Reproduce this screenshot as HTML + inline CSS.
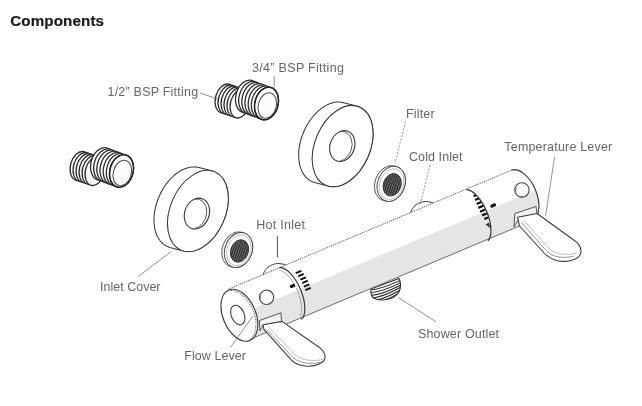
<!DOCTYPE html>
<html><head><meta charset="utf-8"><style>
html,body{margin:0;padding:0;background:#fff;width:642px;height:406px;overflow:hidden}
svg{position:absolute;left:0;top:0;will-change:transform}
</style></head><body>
<svg width="642" height="406" viewBox="0 0 642 406">
<defs><pattern id="mesh" width="2.2" height="2" patternUnits="userSpaceOnUse" ><rect width="2.2" height="2" fill="#2a2a2a"/><rect x="0.6" y="0.5" width="1" height="1" fill="#bbb"/></pattern></defs>
<ellipse cx="80" cy="166" rx="9.5" ry="14.8" transform="rotate(15 80 166)" fill="#fff" stroke="#2e2e2e" stroke-width="1.3" /><ellipse cx="83" cy="167" rx="9.5" ry="14.8" transform="rotate(15 83 167)" fill="#fff" stroke="#2e2e2e" stroke-width="1.3" /><ellipse cx="86" cy="168" rx="9.5" ry="14.8" transform="rotate(15 86 168)" fill="#fff" stroke="#2e2e2e" stroke-width="1.3" /><ellipse cx="89" cy="169" rx="9.5" ry="14.8" transform="rotate(15 89 169)" fill="#fff" stroke="#2e2e2e" stroke-width="1.3" /><ellipse cx="92" cy="170" rx="9.5" ry="14.8" transform="rotate(15 92 170)" fill="#fff" stroke="#2e2e2e" stroke-width="1.3" /><ellipse cx="95" cy="171" rx="9.5" ry="14.8" transform="rotate(15 95 171)" fill="#fff" stroke="#2e2e2e" stroke-width="1.3" /><ellipse cx="102.5" cy="164" rx="11.6" ry="16.6" transform="rotate(15 102.5 164)" fill="#fff" stroke="#2e2e2e" stroke-width="1.3" /><ellipse cx="105.7" cy="165.2" rx="11.6" ry="16.6" transform="rotate(15 105.7 165.2)" fill="#fff" stroke="#2e2e2e" stroke-width="1.3" /><ellipse cx="108.8" cy="166.3" rx="11.6" ry="16.6" transform="rotate(15 108.8 166.3)" fill="#fff" stroke="#2e2e2e" stroke-width="1.3" /><ellipse cx="112" cy="167.5" rx="11.6" ry="16.6" transform="rotate(15 112 167.5)" fill="#fff" stroke="#2e2e2e" stroke-width="1.3" /><ellipse cx="115.2" cy="168.7" rx="11.6" ry="16.6" transform="rotate(15 115.2 168.7)" fill="#fff" stroke="#2e2e2e" stroke-width="1.3" /><ellipse cx="118.3" cy="169.8" rx="11.6" ry="16.6" transform="rotate(15 118.3 169.8)" fill="#fff" stroke="#2e2e2e" stroke-width="1.3" /><ellipse cx="121.5" cy="171" rx="11.6" ry="16.6" transform="rotate(15 121.5 171)" fill="#fff" stroke="#2e2e2e" stroke-width="1.3" /><ellipse cx="121.5" cy="171" rx="11.6" ry="16.6" transform="rotate(15 121.5 171)" fill="none" stroke="#222" stroke-width="1.4" /><ellipse cx="122.3" cy="173" rx="9" ry="13" transform="rotate(15 122.3 173)" fill="#fbfbfb" stroke="#555" stroke-width="1.1" />
<ellipse cx="225" cy="98.5" rx="9.5" ry="14.8" transform="rotate(15 225 98.5)" fill="#fff" stroke="#2e2e2e" stroke-width="1.3" /><ellipse cx="228" cy="99.5" rx="9.5" ry="14.8" transform="rotate(15 228 99.5)" fill="#fff" stroke="#2e2e2e" stroke-width="1.3" /><ellipse cx="231" cy="100.5" rx="9.5" ry="14.8" transform="rotate(15 231 100.5)" fill="#fff" stroke="#2e2e2e" stroke-width="1.3" /><ellipse cx="234" cy="101.5" rx="9.5" ry="14.8" transform="rotate(15 234 101.5)" fill="#fff" stroke="#2e2e2e" stroke-width="1.3" /><ellipse cx="237" cy="102.5" rx="9.5" ry="14.8" transform="rotate(15 237 102.5)" fill="#fff" stroke="#2e2e2e" stroke-width="1.3" /><ellipse cx="240" cy="103.5" rx="9.5" ry="14.8" transform="rotate(15 240 103.5)" fill="#fff" stroke="#2e2e2e" stroke-width="1.3" /><ellipse cx="247.5" cy="96.5" rx="11.6" ry="16.6" transform="rotate(15 247.5 96.5)" fill="#fff" stroke="#2e2e2e" stroke-width="1.3" /><ellipse cx="250.7" cy="97.7" rx="11.6" ry="16.6" transform="rotate(15 250.7 97.7)" fill="#fff" stroke="#2e2e2e" stroke-width="1.3" /><ellipse cx="253.8" cy="98.8" rx="11.6" ry="16.6" transform="rotate(15 253.8 98.8)" fill="#fff" stroke="#2e2e2e" stroke-width="1.3" /><ellipse cx="257" cy="100" rx="11.6" ry="16.6" transform="rotate(15 257 100)" fill="#fff" stroke="#2e2e2e" stroke-width="1.3" /><ellipse cx="260.2" cy="101.2" rx="11.6" ry="16.6" transform="rotate(15 260.2 101.2)" fill="#fff" stroke="#2e2e2e" stroke-width="1.3" /><ellipse cx="263.3" cy="102.3" rx="11.6" ry="16.6" transform="rotate(15 263.3 102.3)" fill="#fff" stroke="#2e2e2e" stroke-width="1.3" /><ellipse cx="266.5" cy="103.5" rx="11.6" ry="16.6" transform="rotate(15 266.5 103.5)" fill="#fff" stroke="#2e2e2e" stroke-width="1.3" /><ellipse cx="266.5" cy="103.5" rx="11.6" ry="16.6" transform="rotate(15 266.5 103.5)" fill="none" stroke="#222" stroke-width="1.4" /><ellipse cx="267.3" cy="105.5" rx="9" ry="13" transform="rotate(15 267.3 105.5)" fill="#fbfbfb" stroke="#555" stroke-width="1.1" />
<path d="M154 221 L154 217.6 L154.3 214.1 L154.8 210.6 L155.6 207.1 L156.5 203.5 L157.7 200 L159.1 196.6 L160.6 193.2 L162.4 190 L164.3 186.8 L166.3 183.9 L168.5 181.1 L170.9 178.5 L173.3 176.1 L175.8 174 L178.4 172.1 L181 170.5 L183.7 169.2 L186.3 168.2 L189 167.4 L191.6 167 L194.1 166.9 L196.6 167.1 L199 167.6 L212.5 171.1 L214.8 171.9 L216.9 173 L218.9 174.4 L220.7 176 L222.4 178 L223.9 180.2 L225.2 182.6 L226.2 185.2 L227.1 188 L227.7 191.1 L228.1 194.2 L228.3 197.5 L228.3 200.9 L228 204.4 L227.5 207.9 L226.7 211.4 L225.8 215 L224.6 218.5 L223.2 221.9 L221.7 225.3 L219.9 228.5 L218 231.7 L216 234.6 L213.8 237.4 L211.4 240 L209 242.4 L206.5 244.5 L203.9 246.4 L201.3 248 L198.6 249.3 L196 250.3 L193.3 251.1 L190.7 251.5 L188.2 251.6 L185.7 251.4 L183.3 250.9 L169.8 247.4 L167.5 246.6 L165.4 245.5 L163.4 244.1 L161.6 242.5 L159.9 240.5 L158.4 238.3 L157.1 235.9 L156.1 233.3 L155.2 230.5 L154.6 227.4 L154.2 224.3Z" fill="#fff" stroke="#383838" stroke-width="1.05" stroke-linejoin="round"/><ellipse cx="197.9" cy="211" rx="27.6" ry="42.6" transform="rotate(23.3 197.9 211)" fill="#fff" stroke="#383838" stroke-width="1.05" /><clipPath id="hc1"><ellipse cx="196.9" cy="213.6" rx="12.2" ry="15.8" transform="rotate(20 196.9 213.6)"/></clipPath><ellipse cx="196.9" cy="213.6" rx="12.2" ry="15.8" transform="rotate(20 196.9 213.6)" fill="#fff" stroke="#383838" stroke-width="1.1" /><g clip-path="url(#hc1)"><ellipse cx="194.1" cy="213.9" rx="12.2" ry="15.5" transform="rotate(20 194.1 213.9)" fill="none" stroke="#555" stroke-width="0.9" /></g>
<path d="M298.7 156.1 L298.7 152.7 L299 149.2 L299.5 145.7 L300.3 142.2 L301.2 138.6 L302.4 135.1 L303.8 131.7 L305.3 128.3 L307.1 125.1 L309 121.9 L311 119 L313.2 116.2 L315.6 113.6 L318 111.2 L320.5 109.1 L323.1 107.2 L325.7 105.6 L328.4 104.3 L331 103.3 L333.7 102.5 L336.3 102.1 L338.8 102 L341.3 102.2 L343.7 102.7 L357.2 106.2 L359.5 107 L361.6 108.1 L363.6 109.5 L365.4 111.1 L367.1 113.1 L368.6 115.3 L369.9 117.7 L370.9 120.3 L371.8 123.1 L372.4 126.2 L372.8 129.3 L373 132.6 L373 136 L372.7 139.5 L372.2 143 L371.4 146.5 L370.5 150.1 L369.3 153.6 L367.9 157 L366.4 160.4 L364.6 163.6 L362.7 166.8 L360.7 169.7 L358.5 172.5 L356.1 175.1 L353.7 177.5 L351.2 179.6 L348.6 181.5 L346 183.1 L343.3 184.4 L340.7 185.4 L338 186.2 L335.4 186.6 L332.9 186.7 L330.4 186.5 L328 186 L314.5 182.5 L312.2 181.7 L310.1 180.6 L308.1 179.2 L306.3 177.6 L304.6 175.6 L303.1 173.4 L301.8 171 L300.8 168.4 L299.9 165.6 L299.3 162.5 L298.9 159.4Z" fill="#fff" stroke="#383838" stroke-width="1.05" stroke-linejoin="round"/><ellipse cx="342.6" cy="146.1" rx="27.6" ry="42.6" transform="rotate(23.3 342.6 146.1)" fill="#fff" stroke="#383838" stroke-width="1.05" /><clipPath id="hc2"><ellipse cx="342.3" cy="146.1" rx="12.2" ry="15.8" transform="rotate(20 342.3 146.1)"/></clipPath><ellipse cx="342.3" cy="146.1" rx="12.2" ry="15.8" transform="rotate(20 342.3 146.1)" fill="#fff" stroke="#383838" stroke-width="1.1" /><g clip-path="url(#hc2)"><ellipse cx="339.5" cy="146.4" rx="12.2" ry="15.5" transform="rotate(20 339.5 146.4)" fill="none" stroke="#555" stroke-width="0.9" /></g>
<path d="M221.8 252.4 L221.9 250.9 L222.1 249.4 L222.3 247.9 L222.7 246.3 L223.2 244.8 L223.8 243.4 L224.5 242 L225.2 240.6 L226.1 239.3 L227 238.1 L228 237 L229.1 236 L230.2 235.1 L231.3 234.3 L232.5 233.6 L233.7 233 L234.9 232.5 L236.2 232.2 L237.4 232 L238.6 232 L239.8 232 L241 232.2 L243.5 232.7 L244.7 233.1 L245.7 233.6 L246.8 234.2 L247.8 234.9 L248.7 235.7 L249.5 236.6 L250.2 237.7 L250.9 238.8 L251.4 240 L251.9 241.3 L252.2 242.7 L252.5 244.1 L252.6 245.6 L252.7 247.1 L252.6 248.6 L252.4 250.1 L252.2 251.6 L251.8 253.2 L251.3 254.7 L250.7 256.1 L250 257.5 L249.3 258.9 L248.4 260.2 L247.5 261.4 L246.5 262.5 L245.4 263.5 L244.3 264.4 L243.2 265.2 L242 265.9 L240.8 266.5 L239.6 267 L238.3 267.3 L237.1 267.5 L235.9 267.5 L234.7 267.5 L233.5 267.3 L231 266.8 L229.8 266.4 L228.8 265.9 L227.7 265.3 L226.7 264.6 L225.8 263.8 L225 262.9 L224.3 261.8 L223.6 260.7 L223.1 259.5 L222.6 258.2 L222.3 256.8 L222 255.4 L221.9 253.9Z" fill="#fff" stroke="#444" stroke-width="0.95" stroke-linejoin="round"/><ellipse cx="238.5" cy="250" rx="13.6" ry="18" transform="rotate(20 238.5 250)" fill="#fff" stroke="#444" stroke-width="0.95" /><ellipse cx="238.8" cy="250.3" rx="11.8" ry="15.8" transform="rotate(20 238.8 250.3)" fill="none" stroke="#aaa" stroke-width="0.7" /><ellipse cx="239.5" cy="251" rx="8.8" ry="11.5" transform="rotate(20 239.5 251)" fill="url(#mesh)" stroke="#333" stroke-width="0.9" />
<path d="M374.5 186.2 L374.6 184.7 L374.8 183.2 L375 181.7 L375.4 180.1 L375.9 178.6 L376.5 177.2 L377.2 175.8 L377.9 174.4 L378.8 173.1 L379.7 171.9 L380.7 170.8 L381.8 169.8 L382.9 168.9 L384 168.1 L385.2 167.4 L386.4 166.8 L387.6 166.3 L388.9 166 L390.1 165.8 L391.3 165.8 L392.5 165.8 L393.7 166 L396.2 166.5 L397.4 166.9 L398.4 167.4 L399.5 168 L400.5 168.7 L401.4 169.5 L402.2 170.4 L402.9 171.5 L403.6 172.6 L404.1 173.8 L404.6 175.1 L404.9 176.5 L405.2 177.9 L405.3 179.4 L405.4 180.9 L405.3 182.4 L405.1 183.9 L404.9 185.4 L404.5 187 L404 188.5 L403.4 189.9 L402.7 191.3 L402 192.7 L401.1 194 L400.2 195.2 L399.2 196.3 L398.1 197.3 L397 198.2 L395.9 199 L394.7 199.7 L393.5 200.3 L392.3 200.8 L391 201.1 L389.8 201.3 L388.6 201.3 L387.4 201.3 L386.2 201.1 L383.7 200.6 L382.5 200.2 L381.5 199.7 L380.4 199.1 L379.4 198.4 L378.5 197.6 L377.7 196.7 L377 195.6 L376.3 194.5 L375.8 193.3 L375.3 192 L375 190.6 L374.7 189.2 L374.6 187.7Z" fill="#fff" stroke="#444" stroke-width="0.95" stroke-linejoin="round"/><ellipse cx="391.2" cy="183.8" rx="13.6" ry="18" transform="rotate(20 391.2 183.8)" fill="#fff" stroke="#444" stroke-width="0.95" /><ellipse cx="391.5" cy="184.1" rx="11.8" ry="15.8" transform="rotate(20 391.5 184.1)" fill="none" stroke="#aaa" stroke-width="0.7" /><ellipse cx="392.2" cy="184.8" rx="8.8" ry="11.5" transform="rotate(20 392.2 184.8)" fill="url(#mesh)" stroke="#333" stroke-width="0.9" />
<defs><clipPath id="oc"><path d="M371 289 L399 278.5 C402 285 401 293 393 297.5 C387 300.5 378 301 373.5 298 C370.5 295 370.5 292 371 289 Z"/></clipPath></defs><path d="M371 289 L399 278.5 C402 285 401 293 393 297.5 C387 300.5 378 301 373.5 298 C370.5 295 370.5 292 371 289 Z" fill="#fff" stroke="#333" stroke-width="1.1"/><g clip-path="url(#oc)" fill="none" stroke="#333" stroke-width="1.1"><path d="M370 290 Q383 289 401 280"/><path d="M370 292.8 Q383 291.8 401 282.4"/><path d="M370 295.6 Q383 294.6 401 284.8"/><path d="M370 298.4 Q383 297.4 401 287.1"/><path d="M370 301.2 Q383 300.2 401 289.5"/><path d="M370 304 Q383 303 401 291.9"/></g>
<g transform="translate(239 314.3) rotate(-22.8)"><path d="M37 -26.3 Q42 -33.3 50 -32.8 Q58 -32.3 63 -26.3" fill="#fff" stroke="#444" stroke-width="0.9"/><path d="M197 -26.3 Q202 -33.3 210 -32.8 Q218 -32.3 223 -26.3" fill="#fff" stroke="#444" stroke-width="0.9"/><path d="M0 -27.3 H306.5 A 15 27.3 0 0 1 306.5 27.3 H0 Z" fill="#fff"/><path d="M0 0.5 H321.0 A 15 27.3 0 0 1 306.5 27.3 H0 Z" fill="#e5e5e5"/><line x1="0" y1="-27.3" x2="306.5" y2="-27.3" stroke="#555" stroke-width="0.9" stroke-dasharray="1.2 0.9"/><line x1="0" y1="27.3" x2="306.5" y2="27.3" stroke="#666" stroke-width="0.85"/><path d="M306.5 -27.3 A 15 27.3 0 0 1 306.5 27.3" fill="none" stroke="#333" stroke-width="1.1"/><path d="M55.5 -27.3 A 12.5 28.3 0 0 1 55.5 28.8" fill="none" stroke="#333" stroke-width="1.15"/><path d="M55.5 -24.3 A 13.6 28.3 0 0 1 55.5 26.3" fill="none" stroke="#555" stroke-width="1" stroke-dasharray="0.8 1.2"/><line x1="68.3" y1="-16" x2="74.3" y2="-16" stroke="#111" stroke-width="1.9"/><line x1="69.3" y1="-12.1" x2="75.3" y2="-12.1" stroke="#111" stroke-width="1.9"/><line x1="70" y1="-8.2" x2="76" y2="-8.2" stroke="#111" stroke-width="1.9"/><line x1="70.4" y1="-4.3" x2="76.4" y2="-4.3" stroke="#111" stroke-width="1.9"/><line x1="70.5" y1="-0.4" x2="76.5" y2="-0.4" stroke="#111" stroke-width="1.9"/><line x1="70.4" y1="3.5" x2="76.4" y2="3.5" stroke="#111" stroke-width="1.9"/><rect x="57.5" y="-7" width="5.5" height="3.2" rx="1.6" fill="#111"/><path d="M258 -26.8 A 12.5 28.3 0 0 1 258 28.8" fill="none" stroke="#333" stroke-width="1.2"/><line x1="262.1" y1="-18" x2="264.6" y2="-18" stroke="#111" stroke-width="2.2"/><line x1="261.9" y1="-13.8" x2="265.9" y2="-13.8" stroke="#111" stroke-width="2.2"/><line x1="261.8" y1="-9.6" x2="266.8" y2="-9.6" stroke="#111" stroke-width="2.2"/><line x1="261.8" y1="-5.4" x2="267.3" y2="-5.4" stroke="#111" stroke-width="2.2"/><line x1="262" y1="-1.2" x2="267.5" y2="-1.2" stroke="#111" stroke-width="2.2"/><line x1="262.4" y1="3" x2="267.4" y2="3" stroke="#111" stroke-width="2.2"/><line x1="263.1" y1="7.2" x2="267.1" y2="7.2" stroke="#111" stroke-width="2.2"/><path d="M262.2 12.5 L266.2 12.5 L264.8 18 Z" fill="#333"/><rect x="273.5" y="-3.5" width="6" height="3.4" rx="1.7" fill="#111"/><ellipse cx="0" cy="1" rx="16.4" ry="27.3" fill="#fff" stroke="#3a3a3a" stroke-width="1.1"/><path d="M0 -25.8 A 18 27.3 0 0 1 0 27.8" fill="none" stroke="#555" stroke-width="1.1" stroke-dasharray="0.9 1.1"/><ellipse cx="-1.4" cy="0.2" rx="6.5" ry="10.3" fill="#fff" stroke="#444" stroke-width="1.1"/><circle cx="32" cy="-5" r="7.2" fill="#fff" stroke="#444" stroke-width="1.1"/><path d="M28 -9 A 5 5 0 0 0 34 1" fill="none" stroke="#777" stroke-width="0.8"/><circle cx="309" cy="-5" r="7.2" fill="#fff" stroke="#444" stroke-width="1.1"/><path d="M305 -9 A 5 5 0 0 0 311 1" fill="none" stroke="#777" stroke-width="0.8"/></g>
<path d="M259.5 320.5 L281 312.8 L281.5 321.5 L263 325 L260 331 Z" fill="#f2f2f2" stroke="#444" stroke-width="0.9"/><path d="M263 324.8 L281.9 321.4 L315.5 344.7 C326 351 329 360 319 364 C312 367.5 298 367 291.4 360.2 L263.8 329.1 Z" fill="#fff" stroke="#3a3a3a" stroke-width="1.05" stroke-linejoin="round"/><path d="M266.5 329.5 L293 357.6 C301 364 313 365 322.4 361.6" fill="none" stroke="#777" stroke-width="0.75"/><path d="M268.5 327 L295 354.6 C303 361 315 362 324.5 358.6" fill="none" stroke="#999" stroke-width="0.6"/>
<path d="M514.8 213.5 L536 206.5 L537 214 L518 220 L514 227 Z" fill="#f2f2f2" stroke="#444" stroke-width="0.9"/><path d="M517.6 217.2 L537 213.5 L573 239.5 C583 246 585 257 571 260.5 C561 263 551 260 545 254 L519.5 226 Z" fill="#fff" stroke="#3a3a3a" stroke-width="1.05" stroke-linejoin="round"/><path d="M521.5 222.5 L547 251.5 C553 257 563 259 574 256" fill="none" stroke="#777" stroke-width="0.75"/><path d="M523.5 220 L549 248.5 C555 254 565 256 577 253" fill="none" stroke="#999" stroke-width="0.6"/>
<g stroke="#777" stroke-width="0.8" fill="none">
<line x1="200" y1="93" x2="218" y2="99"/>
<line x1="274.2" y1="76" x2="274.2" y2="89"/>
<line x1="405.5" y1="121.5" x2="395" y2="163" stroke-dasharray="2 1.5"/>
<line x1="430" y1="165" x2="420" y2="205" stroke-dasharray="2 1.5"/>
<line x1="554.5" y1="157" x2="545.6" y2="216"/>
<line x1="277.4" y1="236" x2="277.4" y2="257.5" stroke="#222"/>
<line x1="138.3" y1="276.5" x2="171" y2="251.6"/>
<line x1="230.3" y1="347.5" x2="252.8" y2="316.4"/>
<line x1="398.5" y1="297.6" x2="436" y2="321.9"/>
</g>
<text x="10.3" y="26" font-family="Liberation Sans, sans-serif" font-weight="bold" font-size="15.2" fill="#1a1a1a" stroke="#1a1a1a" stroke-width="0.2" letter-spacing="0.1">Components</text>
<g font-family="Liberation Sans, sans-serif" font-size="12.5" fill="#666">
<text x="107.5" y="95.6" letter-spacing="0.22">1/2” BSP Fitting</text>
<text x="252.1" y="72.4" letter-spacing="0.3">3/4” BSP Fitting</text>
<text x="405.9" y="118.1" letter-spacing="0.2">Filter</text>
<text x="409" y="160.7" letter-spacing="0.08">Cold Inlet</text>
<text x="504.3" y="151.4" letter-spacing="0.19">Temperature Lever</text>
<text x="256.3" y="229" letter-spacing="0.25">Hot Inlet</text>
<text x="100.1" y="290.5" letter-spacing="0">Inlet Cover</text>
<text x="184.3" y="360.2" letter-spacing="0.05">Flow Lever</text>
<text x="418" y="338.2" letter-spacing="0.15">Shower Outlet</text>
</g>
</svg>
</body></html>
